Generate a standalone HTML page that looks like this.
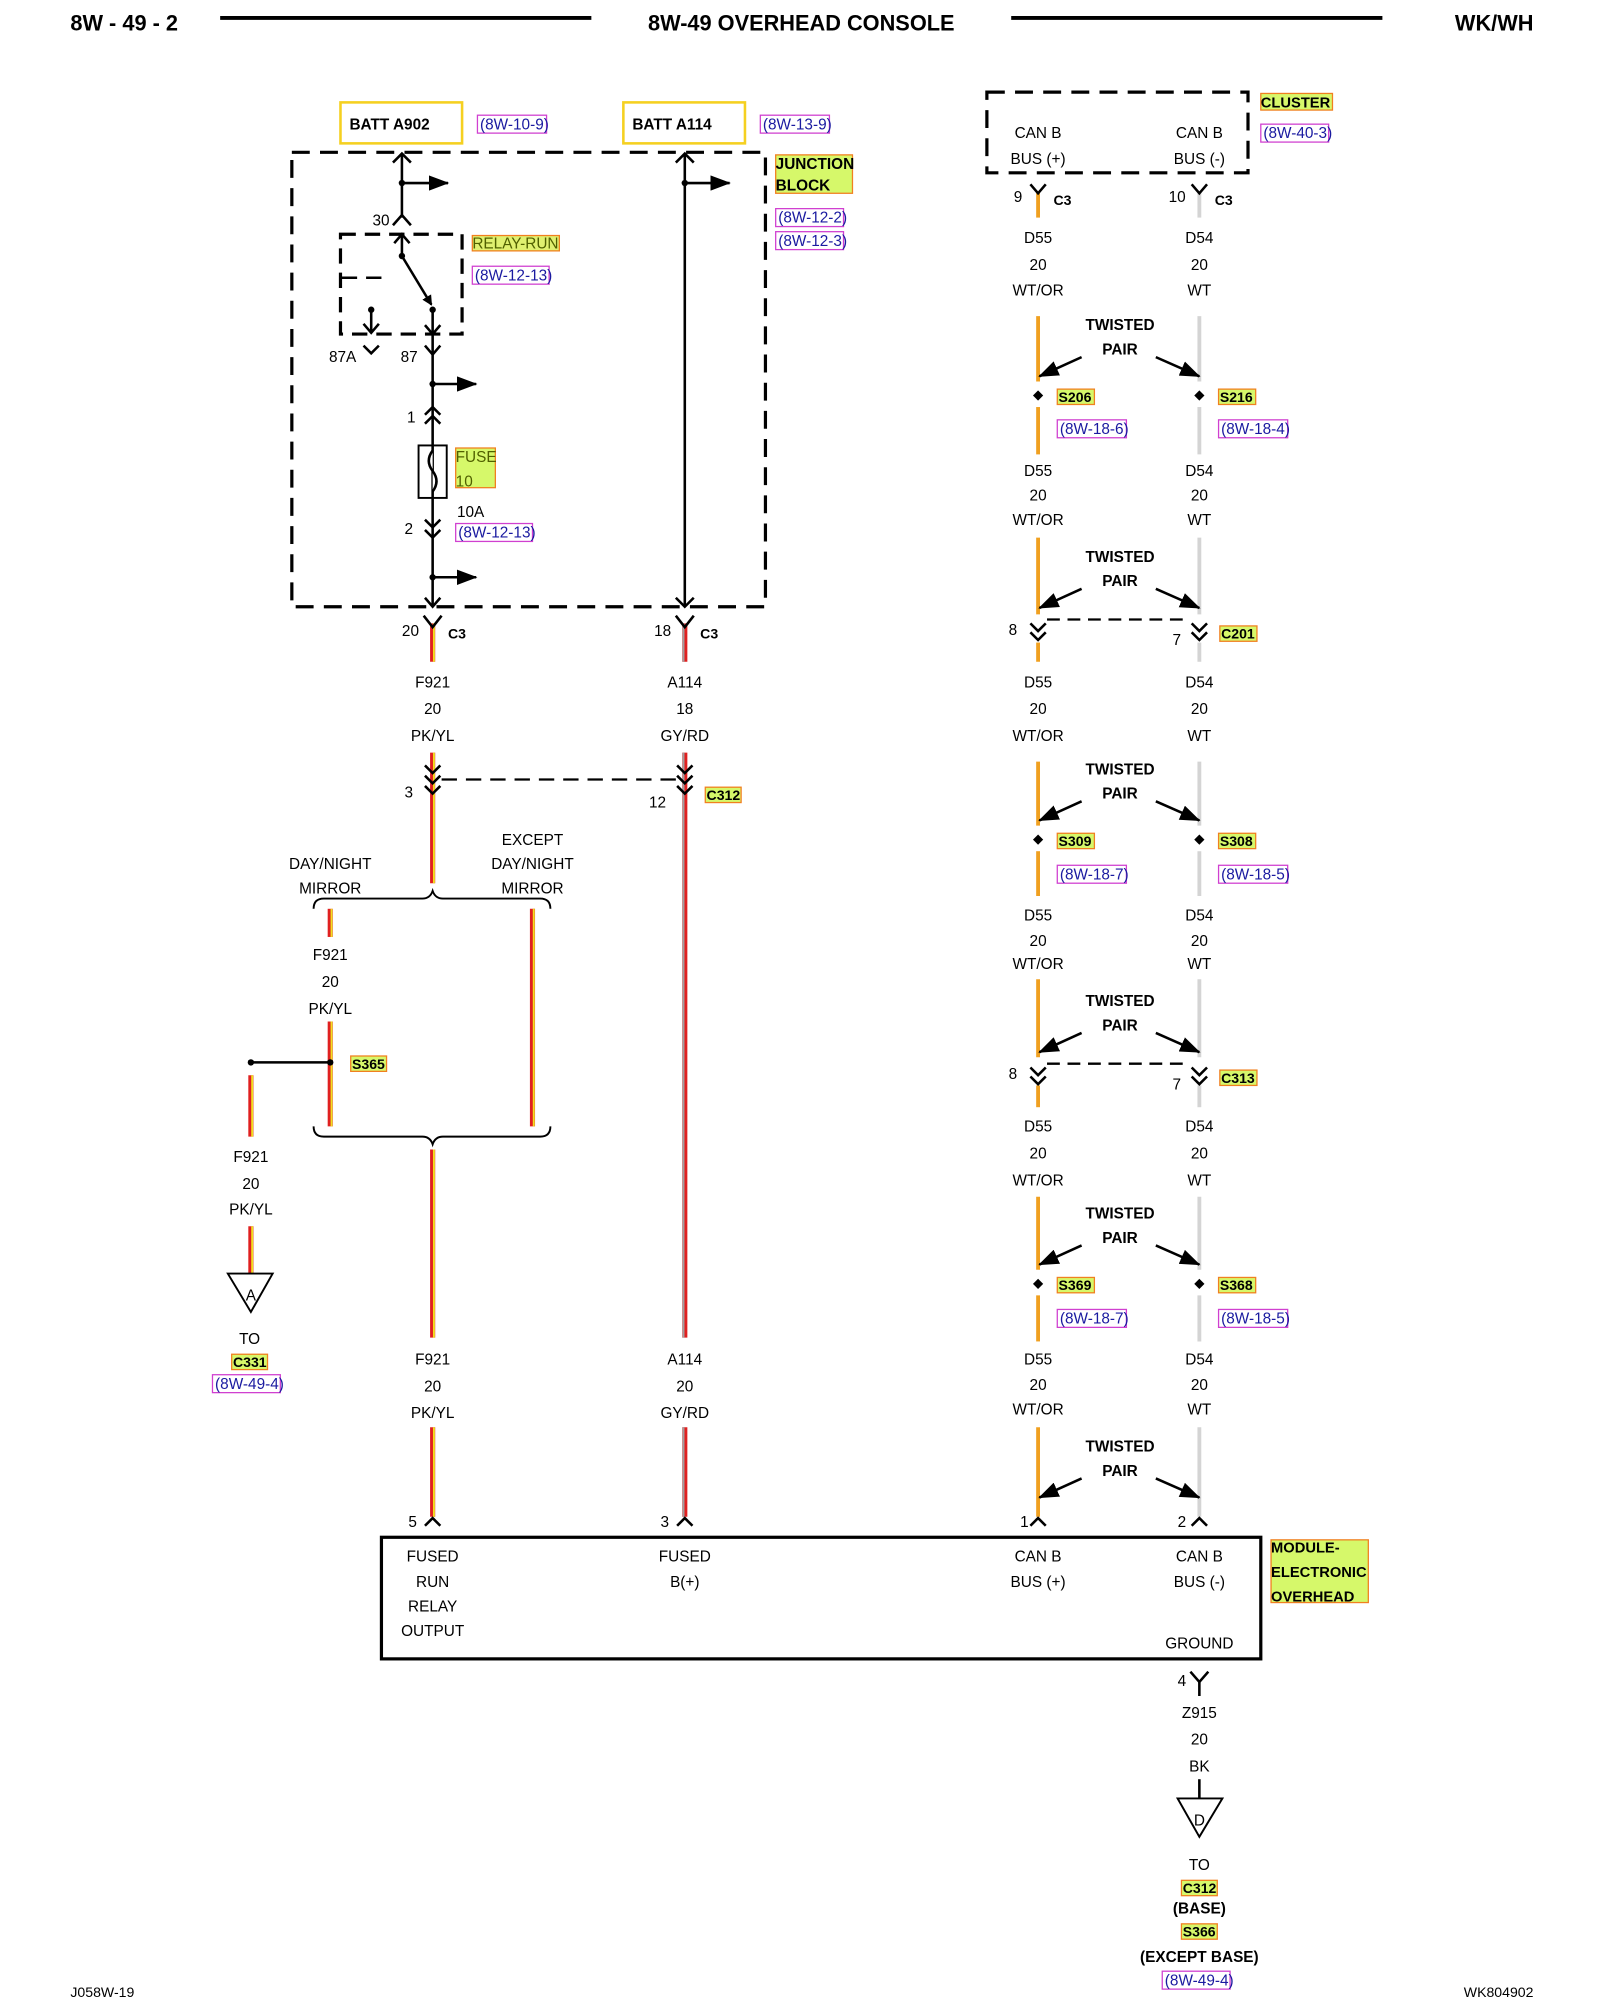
<!DOCTYPE html>
<html><head><meta charset="utf-8"><style>
html,body{margin:0;padding:0;background:#fff}
svg{display:block}
text{font-family:"Liberation Sans",Arial,sans-serif;font-size:12px;fill:#000}
.m{text-anchor:middle}
.b{font-weight:bold}
.r{fill:#1a1aa0}
</style></head><body>
<svg width="1600" height="2000" viewBox="0 0 1250 1562.5" xmlns="http://www.w3.org/2000/svg">
<defs>
<marker id="ah" markerWidth="8" markerHeight="8" refX="7" refY="4" orient="auto" markerUnits="userSpaceOnUse"><path d="M0,0 L8,4 L0,8 z" fill="#000"/></marker>
<marker id="ab" markerWidth="16" markerHeight="12" refX="15" refY="6" orient="auto" markerUnits="userSpaceOnUse"><path d="M0,0 L16,6 L0,12 z" fill="#000"/></marker>
</defs>
<!-- header -->
<text x="55" y="24" class="b" style="font-size:17px">8W - 49 - 2</text>
<line x1="172" y1="14" x2="462" y2="14" stroke="#000" stroke-width="3"/>
<text x="626" y="24" class="m b" style="font-size:17px">8W-49 OVERHEAD CONSOLE</text>
<line x1="790" y1="14" x2="1080" y2="14" stroke="#000" stroke-width="3"/>
<text x="1198" y="24" class="b" style="font-size:17px;text-anchor:end">WK/WH</text>

<!-- batt boxes -->
<rect x="266" y="80" width="95" height="32" fill="none" stroke="#f5d020" stroke-width="2"/>
<text x="273" y="101" class="b">BATT A902</text>
<rect x="373" y="90" width="54" height="14" fill="none" stroke="#d040d0"/><text x="375" y="101" class="r">(8W-10-9)</text>
<rect x="487" y="80" width="95" height="32" fill="none" stroke="#f5d020" stroke-width="2"/>
<text x="494" y="101" class="b">BATT A114</text>
<rect x="594" y="90" width="54" height="14" fill="none" stroke="#d040d0"/><text x="596" y="101" class="r">(8W-13-9)</text>

<!-- junction block -->
<rect x="228" y="119" width="370" height="355" fill="none" stroke="#000" stroke-width="2.5" stroke-dasharray="14,8"/>
<rect x="606" y="121" width="60" height="30" fill="#d6f86a" stroke="#f08020"/>
<text x="606" y="132" class="b">JUNCTION</text><text x="606" y="149" class="b">BLOCK</text>
<rect x="606" y="163" width="53" height="14" fill="none" stroke="#d040d0"/><text x="608" y="174" class="r">(8W-12-2)</text>
<rect x="606" y="181" width="53" height="14" fill="none" stroke="#d040d0"/><text x="608" y="192" class="r">(8W-12-3)</text>
<g stroke="#000" stroke-width="2" fill="none">
<line x1="314" y1="120" x2="314" y2="170"/>
<path d="M307,127 L314,120 L321,127"/>
<line x1="314" y1="143" x2="350" y2="143" marker-end="url(#ab)"/>
<path d="M307,176 L314,168 L321,176"/>
<rect x="266" y="183" width="95" height="78" stroke-dasharray="12,7" stroke-width="2.5"/>
<line x1="314" y1="183" x2="314" y2="200"/>
<path d="M308,190 L314,183 L320,190"/>
<line x1="314" y1="200" x2="337" y2="238" marker-end="url(#ah)"/>
<line x1="267" y1="217" x2="305" y2="217" stroke-dasharray="12,7"/>
<line x1="338" y1="241" x2="338" y2="474"/>
<path d="M332,254 L338,261 L344,254"/>
<line x1="290" y1="242" x2="290" y2="260"/>
<path d="M284,253 L290,260 L296,253"/>
<path d="M284,270 L290,276 L296,270"/>
<path d="M332,270 L338,277 L344,270"/>
<line x1="338" y1="300" x2="372" y2="300" marker-end="url(#ab)"/>
<path d="M332,324 L338,318 L344,324"/><path d="M332,331 L338,325 L344,331"/>
<rect x="327" y="348" width="22" height="41" stroke-width="1.5"/>
<path d="M338,352 q-6,8 0,16 q6,8 0,16" fill="#fff"/>
<path d="M332,406 L338,412 L344,406"/><path d="M332,414 L338,420 L344,414"/>
<line x1="338" y1="451" x2="372" y2="451" marker-end="url(#ab)"/>
<path d="M332,467 L338,474 L344,467"/>
<line x1="535" y1="120" x2="535" y2="474"/>
<path d="M528,127 L535,120 L542,127"/>
<line x1="535" y1="143" x2="570" y2="143" marker-end="url(#ab)"/>
<path d="M528,467 L535,474 L542,467"/>
</g>
<circle cx="314" cy="143" r="2.5"/><circle cx="314" cy="200" r="2.5"/><circle cx="338" cy="242" r="2.5"/><circle cx="290" cy="242" r="2.5"/><circle cx="338" cy="300" r="2.5"/><circle cx="338" cy="451" r="2.5"/><circle cx="535" cy="143" r="2.5"/>
<text x="291" y="176">30</text>
<rect x="369" y="184" width="68" height="12" fill="#e0f070" stroke="#f08020"/><text x="369" y="194" style="fill:#506000">RELAY-RUN</text>
<rect x="369" y="208" width="60" height="14" fill="none" stroke="#d040d0"/><text x="371" y="219" class="r">(8W-12-13)</text>
<text x="257" y="283">87A</text><text x="313" y="283">87</text>
<text x="318" y="330">1</text>
<rect x="356" y="350" width="31" height="31" fill="#d6f86a" stroke="#f08020"/>
<text x="356" y="361" style="fill:#506000">FUSE</text><text x="356" y="380" style="fill:#506000">10</text>
<text x="357" y="404">10A</text>
<text x="316" y="417">2</text>
<rect x="356" y="409" width="60" height="14" fill="none" stroke="#d040d0"/><text x="358" y="420" class="r">(8W-12-13)</text>

<!-- wires -->
<g fill="none">
<g stroke="#e02020" stroke-width="4">
<line x1="338" y1="487" x2="338" y2="517"/><line x1="535" y1="487" x2="535" y2="517"/>
<line x1="338" y1="588" x2="338" y2="690"/><line x1="535" y1="588" x2="535" y2="1045"/>
<line x1="258" y1="710" x2="258" y2="732"/><line x1="258" y1="798" x2="258" y2="880"/>
<line x1="416" y1="710" x2="416" y2="880"/><line x1="338" y1="898" x2="338" y2="1045"/>
<line x1="196" y1="840" x2="196" y2="888"/><line x1="196" y1="958" x2="196" y2="995"/>
<line x1="338" y1="1115" x2="338" y2="1185"/><line x1="535" y1="1115" x2="535" y2="1185"/>
</g>
<g stroke="#f0e020" stroke-width="1.5">
<line x1="339" y1="487" x2="339" y2="517"/><line x1="339" y1="588" x2="339" y2="690"/>
<line x1="259" y1="710" x2="259" y2="732"/><line x1="259" y1="798" x2="259" y2="880"/>
<line x1="417" y1="710" x2="417" y2="880"/><line x1="339" y1="898" x2="339" y2="1045"/>
<line x1="197" y1="840" x2="197" y2="888"/><line x1="197" y1="958" x2="197" y2="995"/>
<line x1="339" y1="1115" x2="339" y2="1185"/>
</g>
<g stroke="#a0a0a0" stroke-width="1.5">
<line x1="534" y1="487" x2="534" y2="517"/><line x1="534" y1="588" x2="534" y2="1045"/><line x1="534" y1="1115" x2="534" y2="1185"/>
</g>
</g>
<g stroke="#000" stroke-width="2" fill="none">
<path d="M331,481 L338,490 L345,481"/><path d="M528,481 L535,490 L542,481"/>
<path d="M332,598 L338,604 L344,598"/><path d="M332,606 L338,612 L344,606"/><path d="M332,614 L338,620 L344,614"/>
<path d="M529,598 L535,604 L541,598"/><path d="M529,606 L535,612 L541,606"/><path d="M529,614 L535,620 L541,614"/>
<line x1="345" y1="609" x2="528" y2="609" stroke-dasharray="12,7" stroke-width="1.8"/>
<path d="M245,710 Q245,702 253,702 L330,702 Q336,702 338,696 Q340,702 346,702 L422,702 Q430,702 430,710" stroke-width="1.5"/>
<path d="M245,880 Q245,888 253,888 L330,888 Q336,888 338,894 Q340,888 346,888 L422,888 Q430,888 430,880" stroke-width="1.5"/>
<line x1="196" y1="830" x2="258" y2="830"/>
<path d="M178,995 L213,995 L196,1025 z" stroke-width="1.5"/>
<path d="M332,1192 L338,1186 L344,1192"/><path d="M529,1192 L535,1186 L541,1192"/>
<rect x="298" y="1201" width="687" height="95" stroke-width="2.5"/>
<path d="M930,1306 L937,1314 L944,1306"/><line x1="937" y1="1314" x2="937" y2="1325"/>
<line x1="937" y1="1390" x2="937" y2="1405"/>
<path d="M920,1405 L955,1405 L937,1435 z" stroke-width="1.5"/>
</g>
<circle cx="196" cy="830" r="2.5"/><circle cx="258" cy="830" r="2.5"/>
<text x="314" y="497">20</text><text x="350" y="499" class="b" style="font-size:11px">C3</text>
<text x="511" y="497">18</text><text x="547" y="499" class="b" style="font-size:11px">C3</text>
<g class="m">
<text x="338" y="537" class="m">F921</text><text x="338" y="558" class="m">20</text><text x="338" y="579" class="m">PK/YL</text>
<text x="535" y="537" class="m">A114</text><text x="535" y="558" class="m">18</text><text x="535" y="579" class="m">GY/RD</text>
<text x="258" y="679" class="m">DAY/NIGHT</text><text x="258" y="698" class="m">MIRROR</text>
<text x="416" y="660" class="m">EXCEPT</text><text x="416" y="679" class="m">DAY/NIGHT</text><text x="416" y="698" class="m">MIRROR</text>
<text x="258" y="750" class="m">F921</text><text x="258" y="771" class="m">20</text><text x="258" y="792" class="m">PK/YL</text>
<text x="196" y="908" class="m">F921</text><text x="196" y="929" class="m">20</text><text x="196" y="949" class="m">PK/YL</text>
<text x="196" y="1016" class="m">A</text>
<text x="195" y="1050" class="m">TO</text>
<text x="338" y="1066" class="m">F921</text><text x="338" y="1087" class="m">20</text><text x="338" y="1108" class="m">PK/YL</text>
<text x="535" y="1066" class="m">A114</text><text x="535" y="1087" class="m">20</text><text x="535" y="1108" class="m">GY/RD</text>
<text x="338" y="1220" class="m">FUSED</text><text x="338" y="1240" class="m">RUN</text><text x="338" y="1259" class="m">RELAY</text><text x="338" y="1278" class="m">OUTPUT</text>
<text x="535" y="1220" class="m">FUSED</text><text x="535" y="1240" class="m">B(+)</text>
<text x="811" y="1220" class="m">CAN B</text><text x="811" y="1240" class="m">BUS (+)</text>
<text x="937" y="1220" class="m">CAN B</text><text x="937" y="1240" class="m">BUS (-)</text>
<text x="937" y="1288" class="m">GROUND</text>
<text x="937" y="1342" class="m">Z915</text><text x="937" y="1363" class="m">20</text><text x="937" y="1384" class="m">BK</text>
<text x="937" y="1426" class="m">D</text>
<text x="937" y="1461" class="m">TO</text>
<text x="937" y="1495" class="m b">(BASE)</text>
<text x="937" y="1533" class="m b">(EXCEPT BASE)</text>
</g>
<text x="316" y="623">3</text><text x="507" y="631">12</text>
<rect x="551" y="615" width="28" height="12" fill="#d6f86a" stroke="#f08020"/><text x="552" y="625" class="b" style="font-size:11px">C312</text>
<rect x="274" y="825" width="28" height="12" fill="#d6f86a" stroke="#f08020"/><text x="275" y="835" class="b" style="font-size:11px">S365</text>
<rect x="181" y="1058" width="28" height="12" fill="#d6f86a" stroke="#f08020"/><text x="182" y="1068" class="b" style="font-size:11px">C331</text>
<rect x="166" y="1074" width="53" height="14" fill="none" stroke="#d040d0"/><text x="168" y="1085" class="r">(8W-49-4)</text>
<text x="319" y="1193">5</text><text x="516" y="1193">3</text><text x="797" y="1193">1</text><text x="920" y="1193">2</text>
<text x="920" y="1317">4</text>
<rect x="993" y="1203" width="76" height="49" fill="#d6f86a" stroke="#f08020"/>
<text x="993" y="1213" class="b" style="font-size:11.5px">MODULE-</text><text x="993" y="1232" class="b" style="font-size:11.5px">ELECTRONIC</text><text x="993" y="1251" class="b" style="font-size:11.5px">OVERHEAD</text>
<rect x="923" y="1469" width="28" height="12" fill="#d6f86a" stroke="#f08020"/><text x="924" y="1479" class="b" style="font-size:11px">C312</text>
<rect x="923" y="1503" width="28" height="12" fill="#d6f86a" stroke="#f08020"/><text x="924" y="1513" class="b" style="font-size:11px">S366</text>
<rect x="908" y="1540" width="53" height="14" fill="none" stroke="#d040d0"/><text x="910" y="1551" class="r">(8W-49-4)</text>
<text x="55" y="1560" style="font-size:11px">J058W-19</text>
<text x="1198" y="1560" style="font-size:11px;text-anchor:end">WK804902</text>

<!-- right side -->
<rect x="771" y="72" width="204" height="63" fill="none" stroke="#000" stroke-width="2.5" stroke-dasharray="14,8"/>
<rect x="985" y="73" width="56" height="13" fill="#d6f86a" stroke="#f08020"/><text x="985" y="84" class="b" style="font-size:11.5px">CLUSTER</text>
<rect x="985" y="97" width="53" height="14" fill="none" stroke="#d040d0"/><text x="987" y="108" class="r">(8W-40-3)</text>
<g>
<text x="811" y="108" class="m">CAN B</text><text x="811" y="128" class="m">BUS (+)</text>
<text x="937" y="108" class="m">CAN B</text><text x="937" y="128" class="m">BUS (-)</text>
</g>
<g stroke-width="3" fill="none">
<g stroke="#f0a020">
<line x1="811" y1="150" x2="811" y2="170"/><line x1="811" y1="247" x2="811" y2="298"/><line x1="811" y1="318" x2="811" y2="355"/>
<line x1="811" y1="420" x2="811" y2="480"/><line x1="811" y1="502" x2="811" y2="517"/>
<line x1="811" y1="595" x2="811" y2="645"/><line x1="811" y1="665" x2="811" y2="700"/>
<line x1="811" y1="765" x2="811" y2="826"/><line x1="811" y1="848" x2="811" y2="865"/>
<line x1="811" y1="935" x2="811" y2="992"/><line x1="811" y1="1012" x2="811" y2="1048"/>
<line x1="811" y1="1115" x2="811" y2="1185"/>
</g>
<g stroke="#d4d4d4">
<line x1="937" y1="150" x2="937" y2="170"/><line x1="937" y1="247" x2="937" y2="298"/><line x1="937" y1="318" x2="937" y2="355"/>
<line x1="937" y1="420" x2="937" y2="480"/><line x1="937" y1="502" x2="937" y2="517"/>
<line x1="937" y1="595" x2="937" y2="645"/><line x1="937" y1="665" x2="937" y2="700"/>
<line x1="937" y1="765" x2="937" y2="826"/><line x1="937" y1="848" x2="937" y2="865"/>
<line x1="937" y1="935" x2="937" y2="992"/><line x1="937" y1="1012" x2="937" y2="1048"/>
<line x1="937" y1="1115" x2="937" y2="1185"/>
</g>
</g>
<g stroke="#000" stroke-width="2" fill="none">
<path d="M805,144 L811,151 L817,144"/><path d="M931,144 L937,151 L943,144"/>
<line x1="845" y1="279" x2="812" y2="294" marker-end="url(#ab)"/><line x1="903" y1="279" x2="937" y2="294" marker-end="url(#ab)"/>
<line x1="845" y1="460" x2="812" y2="475" marker-end="url(#ab)"/><line x1="903" y1="460" x2="937" y2="475" marker-end="url(#ab)"/>
<line x1="845" y1="626" x2="812" y2="641" marker-end="url(#ab)"/><line x1="903" y1="626" x2="937" y2="641" marker-end="url(#ab)"/>
<line x1="845" y1="807" x2="812" y2="822" marker-end="url(#ab)"/><line x1="903" y1="807" x2="937" y2="822" marker-end="url(#ab)"/>
<line x1="845" y1="973" x2="812" y2="988" marker-end="url(#ab)"/><line x1="903" y1="973" x2="937" y2="988" marker-end="url(#ab)"/>
<line x1="845" y1="1155" x2="812" y2="1170" marker-end="url(#ab)"/><line x1="903" y1="1155" x2="937" y2="1170" marker-end="url(#ab)"/>
<path d="M805,487 L811,493 L817,487"/><path d="M805,494 L811,500 L817,494"/>
<path d="M931,487 L937,493 L943,487"/><path d="M931,494 L937,500 L943,494"/>
<line x1="818" y1="484" x2="930" y2="484" stroke-dasharray="10,6" stroke-width="1.8"/>
<path d="M805,834 L811,840 L817,834"/><path d="M805,841 L811,847 L817,841"/>
<path d="M931,834 L937,840 L943,834"/><path d="M931,841 L937,847 L943,841"/>
<line x1="818" y1="831" x2="930" y2="831" stroke-dasharray="10,6" stroke-width="1.8"/>
<path d="M805,1192 L811,1186 L817,1192"/><path d="M931,1192 L937,1186 L943,1192"/>
</g>
<g fill="#000">
<path d="M811,305 l4,4 l-4,4 l-4,-4z"/><path d="M937,305 l4,4 l-4,4 l-4,-4z"/>
<path d="M811,652 l4,4 l-4,4 l-4,-4z"/><path d="M937,652 l4,4 l-4,4 l-4,-4z"/>
<path d="M811,999 l4,4 l-4,4 l-4,-4z"/><path d="M937,999 l4,4 l-4,4 l-4,-4z"/>
</g>
<text x="792" y="158">9</text><text x="823" y="160" class="b" style="font-size:11px">C3</text>
<text x="913" y="158">10</text><text x="949" y="160" class="b" style="font-size:11px">C3</text>
<g class="m">
<text x="811" y="190" class="m">D55</text><text x="811" y="211" class="m">20</text><text x="811" y="231" class="m">WT/OR</text>
<text x="937" y="190" class="m">D54</text><text x="937" y="211" class="m">20</text><text x="937" y="231" class="m">WT</text>
<text x="811" y="372" class="m">D55</text><text x="811" y="391" class="m">20</text><text x="811" y="410" class="m">WT/OR</text>
<text x="937" y="372" class="m">D54</text><text x="937" y="391" class="m">20</text><text x="937" y="410" class="m">WT</text>
<text x="811" y="537" class="m">D55</text><text x="811" y="558" class="m">20</text><text x="811" y="579" class="m">WT/OR</text>
<text x="937" y="537" class="m">D54</text><text x="937" y="558" class="m">20</text><text x="937" y="579" class="m">WT</text>
<text x="811" y="719" class="m">D55</text><text x="811" y="739" class="m">20</text><text x="811" y="757" class="m">WT/OR</text>
<text x="937" y="719" class="m">D54</text><text x="937" y="739" class="m">20</text><text x="937" y="757" class="m">WT</text>
<text x="811" y="884" class="m">D55</text><text x="811" y="905" class="m">20</text><text x="811" y="926" class="m">WT/OR</text>
<text x="937" y="884" class="m">D54</text><text x="937" y="905" class="m">20</text><text x="937" y="926" class="m">WT</text>
<text x="811" y="1066" class="m">D55</text><text x="811" y="1086" class="m">20</text><text x="811" y="1105" class="m">WT/OR</text>
<text x="937" y="1066" class="m">D54</text><text x="937" y="1086" class="m">20</text><text x="937" y="1105" class="m">WT</text>
<text x="875" y="258" class="m b">TWISTED</text><text x="875" y="277" class="m b">PAIR</text>
<text x="875" y="439" class="m b">TWISTED</text><text x="875" y="458" class="m b">PAIR</text>
<text x="875" y="605" class="m b">TWISTED</text><text x="875" y="624" class="m b">PAIR</text>
<text x="875" y="786" class="m b">TWISTED</text><text x="875" y="805" class="m b">PAIR</text>
<text x="875" y="952" class="m b">TWISTED</text><text x="875" y="971" class="m b">PAIR</text>
<text x="875" y="1134" class="m b">TWISTED</text><text x="875" y="1153" class="m b">PAIR</text>
</g>
<text x="788" y="496">8</text><text x="916" y="504">7</text>
<text x="788" y="843">8</text><text x="916" y="851">7</text>
<g class="b" style="font-size:11px">
<rect x="826" y="304" width="29" height="12" fill="#d6f86a" stroke="#f08020"/><text x="827" y="314" class="b" style="font-size:11px">S206</text>
<rect x="952" y="304" width="29" height="12" fill="#d6f86a" stroke="#f08020"/><text x="953" y="314" class="b" style="font-size:11px">S216</text>
<rect x="953" y="489" width="29" height="12" fill="#d6f86a" stroke="#f08020"/><text x="954" y="499" class="b" style="font-size:11px">C201</text>
<rect x="826" y="651" width="29" height="12" fill="#d6f86a" stroke="#f08020"/><text x="827" y="661" class="b" style="font-size:11px">S309</text>
<rect x="952" y="651" width="29" height="12" fill="#d6f86a" stroke="#f08020"/><text x="953" y="661" class="b" style="font-size:11px">S308</text>
<rect x="953" y="836" width="29" height="12" fill="#d6f86a" stroke="#f08020"/><text x="954" y="846" class="b" style="font-size:11px">C313</text>
<rect x="826" y="998" width="29" height="12" fill="#d6f86a" stroke="#f08020"/><text x="827" y="1008" class="b" style="font-size:11px">S369</text>
<rect x="952" y="998" width="29" height="12" fill="#d6f86a" stroke="#f08020"/><text x="953" y="1008" class="b" style="font-size:11px">S368</text>
</g>
<rect x="826" y="328" width="54" height="14" fill="none" stroke="#d040d0"/><text x="828" y="339" class="r">(8W-18-6)</text>
<rect x="952" y="328" width="54" height="14" fill="none" stroke="#d040d0"/><text x="954" y="339" class="r">(8W-18-4)</text>
<rect x="826" y="676" width="54" height="14" fill="none" stroke="#d040d0"/><text x="828" y="687" class="r">(8W-18-7)</text>
<rect x="952" y="676" width="54" height="14" fill="none" stroke="#d040d0"/><text x="954" y="687" class="r">(8W-18-5)</text>
<rect x="826" y="1023" width="54" height="14" fill="none" stroke="#d040d0"/><text x="828" y="1034" class="r">(8W-18-7)</text>
<rect x="952" y="1023" width="54" height="14" fill="none" stroke="#d040d0"/><text x="954" y="1034" class="r">(8W-18-5)</text>
</svg>
</body></html>
